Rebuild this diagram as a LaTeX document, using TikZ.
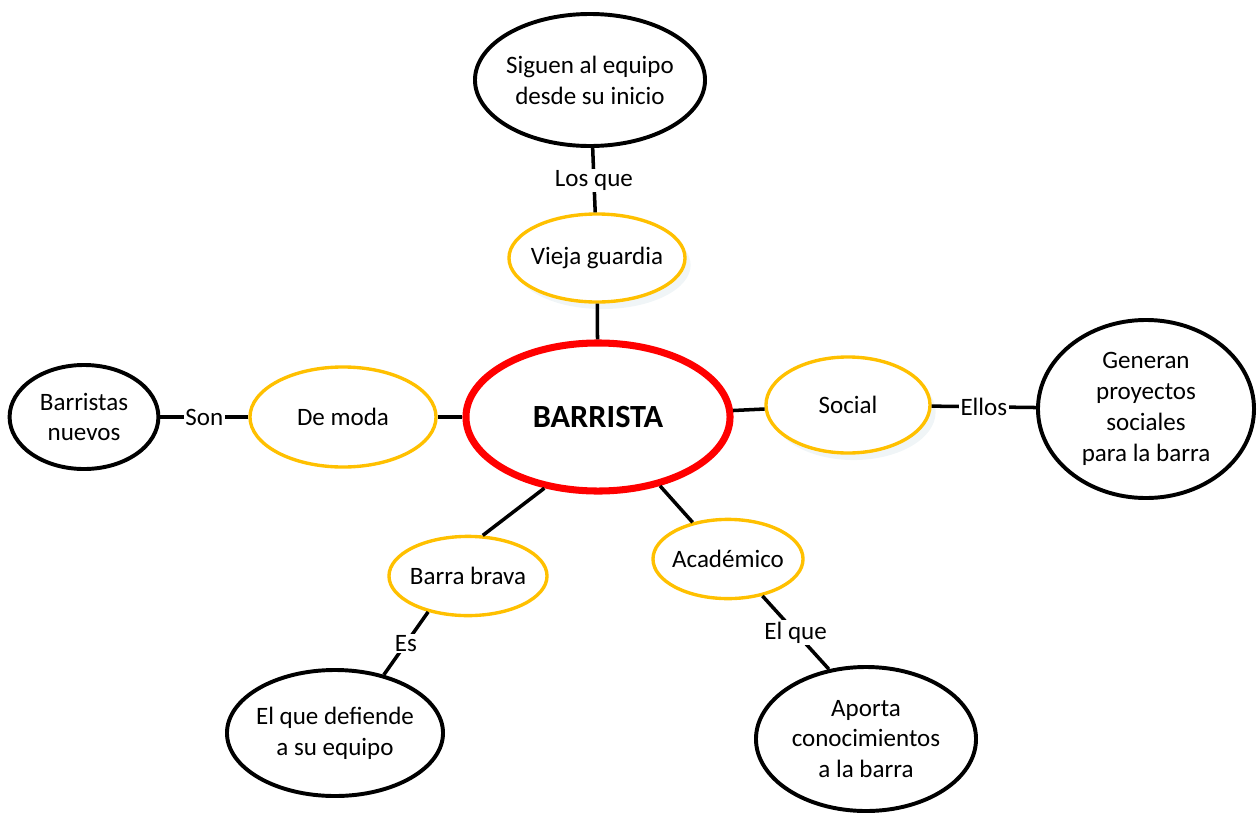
\documentclass[tikz,border=0pt]{standalone}
\usepackage{fontspec}
\setmainfont{Carlito}
\usetikzlibrary{shapes.geometric,shadows}

\definecolor{gold}{RGB}{255,192,0}
\definecolor{shade}{RGB}{226,236,240}

\begin{document}
\begin{tikzpicture}[x=0.025cm, y=-0.025cm,
                    every node/.style={font=\fontsize{17.8}{22}\selectfont},
                    core/.style={ellipse, draw=red, fill=white, line width=5pt, inner sep=0pt,
                                 font=\fontsize{23}{28}\selectfont\bfseries},
                    kind/.style={ellipse, draw=gold, fill=white, line width=2.4pt,
                                 inner ysep=0pt, inner xsep=-6pt, align=center},
                    note/.style={ellipse, draw=black, fill=white, line width=2.8pt,
                                 inner ysep=0pt, inner xsep=-10pt, align=center},
                    shaded/.style={drop shadow={shadow xshift=4pt, shadow yshift=-5pt, fill=shade}},
                    link/.style={fill=white, inner sep=1pt}]
    %\draw[help lines] (0,0) grid (1257,816);
   \useasboundingbox (0,0) rectangle (1257,816);

   \node[core, minimum width=6.6cm, minimum height=3.7cm] (barrista) at (598,417) {BARRISTA};

   \node[kind, shaded, minimum width=4.4cm, minimum height=2.2cm] (vieja_guardia) at (597,258) {Vieja guardia};
   \node[kind, minimum width=4.65cm, minimum height=2.5cm] (de_moda) at (343,417) {De moda};
   \node[kind, shaded, minimum width=4.1cm, minimum height=2.4cm] (social) at (848,405) {Social};
   \node[kind, minimum width=3.95cm, minimum height=1.98cm] (barra_brava) at (468,576) {Barra brava};
   \node[kind, minimum width=3.75cm, minimum height=1.98cm] (academico) at (728,559) {Académico};

   \node[note, minimum width=5.75cm, minimum height=3.3cm] (siguen) at (590,80) {Siguen al equipo\\desde su inicio};
   \node[note, minimum width=3.72cm, minimum height=2.6cm] (nuevos) at (84,417) {Barristas\\nuevos};
   \node[note, minimum width=5.4cm, minimum height=4.45cm] (generan) at (1146,409) {Generan\\proyectos\\sociales\\para la barra};
   \node[note, minimum width=5.4cm, minimum height=3.15cm] (defiende) at (335,733) {El que defiende\\a su equipo};
   \node[note, minimum width=5.5cm, minimum height=3.6cm] (aporta) at (866,739) {Aporta\\conocimientos\\a la barra};

   % Define links
   \path[draw, line width=2.5pt]
    (barrista)              edge                           (vieja_guardia)
                            edge                           (de_moda)
                            edge                           (social)
    (barrista.233)          edge                           (barra_brava.70)
    (barrista.-48)          edge                           (academico.134)
    (vieja_guardia)         edge node[link] {Los que}      (siguen)
    (de_moda)               edge node[link] {Son}          (nuevos)
    (social)                edge node[link] {Ellos}        (generan)
    (barra_brava.222)       edge node[link] {Es}           (defiende.50)
    (academico.-47)         edge node[link] {El que}       (aporta.118);

\end{tikzpicture}
\end{document}
